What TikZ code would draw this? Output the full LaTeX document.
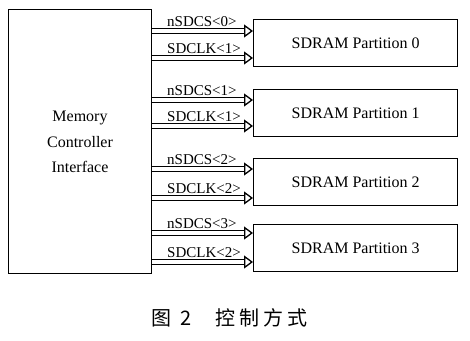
\documentclass[tikz,border=0pt]{standalone}
\usepackage{fontspec}
\setmainfont{Liberation Serif}
\newfontfamily\cjk{Noto Sans CJK SC}
\usetikzlibrary{arrows.meta}
\begin{document}
\begin{tikzpicture}[x=1pt,y=-1pt,
 box/.style={draw, line width=1.3pt, inner sep=0pt, anchor=north west},
 bus/.style={double, double distance=3.5pt, line width=1.3pt, -{Triangle[open,length=9pt,width=13pt,line width=1.3pt]}},
 lbl/.style={font=\fontsize{15}{15}\selectfont, anchor=base west, inner sep=0pt},
 ptxt/.style={font=\fontsize{16}{16}\selectfont}]
\fill[white] (0,0) rectangle (470,340);
\useasboundingbox (0,0) rectangle (470,340);
\node[box, minimum width=143pt, minimum height=264pt] (mc) at (8,9) {};
\node[font=\fontsize{16}{25.5}\selectfont, align=center] (mct) at (80,142) {Memory\\Controller\\Interface};
\foreach \i/\top/\ya/\yb/\la/\lb in {0/19/31/58/0/1, 1/89/100/126/1/1, 2/158/169/198/2/2, 3/224/233/262/3/2}{
  \node[box, minimum width=204pt, minimum height=46.5pt] (p\i) at (253,\top) {};
  \node[ptxt] (pt\i) at (p\i.center) {SDRAM Partition \i};
  \coordinate (a\i) at (0,\ya);
  \coordinate (b\i) at (0,\yb);
  \draw[bus] (mc.east |- a\i) -- (p\i.west |- a\i);
  \draw[bus] (mc.east |- b\i) -- (p\i.west |- b\i);
  \node[lbl] (la\i) at (167,\ya-5) {nSDCS<\la>};
  \node[lbl] (lb\i) at (167,\yb-5) {SDCLK<\lb>};
}
\node[font=\cjk\fontsize{20}{20}\selectfont, anchor=west, inner sep=0pt] (cap) at (151,318) {图\hspace{9pt}2\hspace{24pt}控\hspace{4pt}制\hspace{4pt}方\hspace{4pt}式};
\end{tikzpicture}
\end{document}
